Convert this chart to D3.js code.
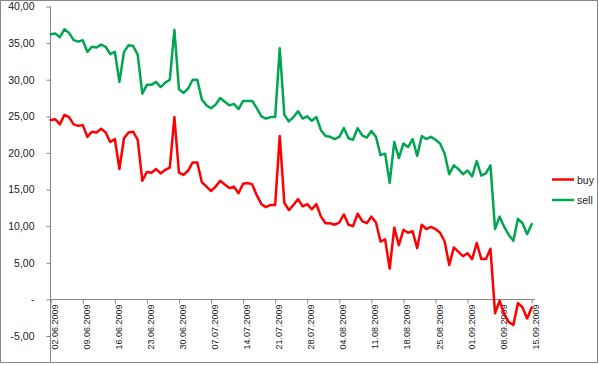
<!DOCTYPE html>
<html>
<head>
<meta charset="utf-8">
<script src="https://cdn.jsdelivr.net/npm/d3@7"></script>
<style>
  html, body { margin: 0; padding: 0; background: #fff; }
  svg { display: block; }
  text { font-family: "Liberation Sans", Arial, sans-serif; fill: #1a1a1a; }
</style>
</head>
<body>
<svg id="chart" width="599" height="365"></svg>
<script>
// ---- data ----
const startDate = "2009-06-02";
const endDate = "2009-09-15";
const buy = [
  24.5, 24.6, 23.9, 25.2, 24.9, 23.9, 23.7, 23.8, 22.2, 22.9,
  22.8, 23.3, 22.8, 21.5, 21.9, 17.8, 22.0, 22.8, 22.9, 21.8,
  16.2, 17.4, 17.3, 17.8, 17.2, 17.7, 18.0, 24.9, 17.3, 17.0,
  17.6, 18.7, 18.7, 16.0, 15.4, 14.8, 15.4, 16.2, 15.7, 15.2,
  15.4, 14.5, 15.8, 15.9, 15.7, 14.2, 13.0, 12.6, 12.9, 12.9,
  22.3, 13.2, 12.2, 12.9, 13.7, 12.7, 13.0, 12.3, 13.0, 11.3,
  10.4, 10.4, 10.2, 10.5, 11.6, 10.2, 10.0, 11.7, 10.7, 10.4,
  11.3, 10.5, 7.9, 8.2, 4.2, 9.8, 7.4, 9.5, 9.1, 9.3,
  7.0, 10.2, 9.6, 9.9, 9.6, 9.1, 7.9, 4.7, 7.1, 6.5,
  5.9, 6.3, 5.5, 7.7, 5.5, 5.5, 6.9, -1.9, -0.2, -2.0,
  -3.1, -3.5, -0.5, -1.1, -2.6, -1.1
];
const sell = [
  36.2, 36.3, 35.8, 36.9, 36.4, 35.4, 35.2, 35.4, 33.8, 34.5,
  34.4, 34.8, 34.5, 33.5, 33.8, 29.7, 33.8, 34.7, 34.6, 33.4,
  28.1, 29.3, 29.3, 29.7, 29.0, 29.6, 30.0, 36.8, 28.7, 28.2,
  28.8, 30.0, 30.0, 27.3, 26.5, 26.1, 26.6, 27.5, 27.0, 26.5,
  26.7, 26.0, 27.1, 27.1, 27.1, 26.1, 25.0, 24.7, 24.9, 24.9,
  34.3, 25.2, 24.3, 24.9, 25.7, 24.7, 25.0, 24.4, 24.9, 23.1,
  22.3, 22.2, 21.9, 22.2, 23.4, 22.0, 21.8, 23.4, 22.4, 22.1,
  23.0, 22.2, 19.7, 19.9, 15.9, 21.5, 19.3, 21.3, 20.8, 21.9,
  19.6, 22.3, 21.9, 22.2, 21.8, 21.3, 19.9, 17.1, 18.3, 17.8,
  17.1, 17.6, 16.8, 18.9, 16.9, 17.2, 18.3, 9.6, 11.3, 9.9,
  8.8, 8.0, 11.0, 10.4, 8.9, 10.3
];
const xTickLabels = ["02.06.2009","09.06.2009","16.06.2009","23.06.2009","30.06.2009",
  "07.07.2009","14.07.2009","21.07.2009","28.07.2009","04.08.2009","11.08.2009",
  "18.08.2009","25.08.2009","01.09.2009","08.09.2009","15.09.2009"];
const yTickValues = [-5, 0, 5, 10, 15, 20, 25, 30, 35, 40];
const yTickLabels = ["-5,00", "-", "5,00", "10,00", "15,00", "20,00", "25,00", "30,00", "35,00", "40,00"];
const seriesNames = ["buy", "sell"];
const seriesColors = ["#ff0000", "#00a651"];

// ---- build ----
const parse = d3.timeParse("%Y-%m-%d");
const parseLbl = d3.timeParse("%d.%m.%Y");
const dates = d3.timeDay.range(parse(startDate), d3.timeDay.offset(parse(endDate), 1));
const series = [buy, sell];

const svg = d3.select("#chart");
const axisColor = "#868686";

// chart frame
svg.append("rect").attr("x", 0.5).attr("y", 0.5).attr("width", 597).attr("height", 362)
  .attr("fill", "#fff").attr("stroke", axisColor).attr("stroke-width", 1);

const x = d3.scaleTime().domain([parse(startDate), parse(endDate)]).range([50.7, 531.7]);
const y = d3.scaleLinear().domain([-5, 40]).range([336, 6.5]);

// y axis
const yAxis = svg.append("g").attr("transform", "translate(50.5,0)")
  .call(d3.axisLeft(y).tickValues(yTickValues).tickSize(4).tickPadding(12)
    .tickFormat((d, i) => yTickLabels[i]));
yAxis.select(".domain").remove();
yAxis.selectAll(".tick line").attr("stroke", axisColor);
yAxis.selectAll(".tick text").attr("font-size", "10.5px").attr("fill", "#1a1a1a")
  .style("font-family", "'Liberation Sans', Arial, sans-serif");
svg.append("line").attr("x1", 50.5).attr("x2", 50.5).attr("y1", y(40)).attr("y2", 362)
  .attr("stroke", axisColor);

// x axis at zero
const xTicks = xTickLabels.map(s => parseLbl(s));
const xAxis = svg.append("g").attr("transform", `translate(0,${Math.round(y(0)) + 0.5})`)
  .call(d3.axisBottom(x).tickValues(xTicks).tickSize(4).tickFormat((d, i) => xTickLabels[i]));
xAxis.select(".domain").remove();
xAxis.selectAll(".tick line").attr("stroke", axisColor);
xAxis.selectAll(".tick text")
  .attr("font-size", "9px").attr("fill", "#1a1a1a")
  .style("font-family", "'Liberation Sans', Arial, sans-serif")
  .attr("text-anchor", "end")
  .attr("dy", null)
  .attr("y", 0)
  .attr("transform", "translate(6.5,5) rotate(-90)");
svg.append("line").attr("x1", 50).attr("x2", 535)
  .attr("y1", Math.round(y(0)) + 0.5).attr("y2", Math.round(y(0)) + 0.5)
  .attr("stroke", axisColor);

// lines
const line = d3.line().x((d, i) => x(dates[i])).y(d => y(d));
series.forEach((s, k) => {
  svg.append("path").datum(s).attr("d", line)
    .attr("fill", "none").attr("stroke", seriesColors[k]).attr("stroke-width", 2.5)
    .attr("stroke-linejoin", "round").attr("stroke-linecap", "round");
});

// legend
const legend = svg.append("g");
seriesNames.forEach((n, k) => {
  const ly = 179.5 + k * 20.5;
  legend.append("line").attr("x1", 552).attr("x2", 574).attr("y1", ly).attr("y2", ly)
    .attr("stroke", seriesColors[k]).attr("stroke-width", 2.5);
  legend.append("text").attr("x", 577).attr("y", ly + 4).attr("font-size", "10.5px").text(n);
});
</script>
</body>
</html>
